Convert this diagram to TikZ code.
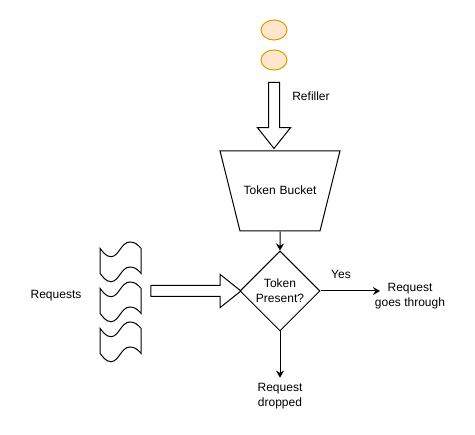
\documentclass[tikz,border=0pt]{standalone}
\usepackage{fontspec}
\setmainfont{Liberation Sans}
\usetikzlibrary{arrows.meta,shapes.geometric,shapes.arrows}
\definecolor{coinfill}{HTML}{FFE6CC}
\definecolor{coinline}{HTML}{D79B00}
\tikzset{
    coin/.style={
        ellipse,
        draw=coinline,
        fill=coinfill,
        minimum width=26pt,
        minimum height=20pt,
        inner sep=0pt
    },
    bucket/.style={
        trapezium,
        draw,
        shape border rotate=180,
        trapezium angle=76,
        text width=80pt,
        text height=44pt,
        text depth=36pt,
        align=center,
        inner sep=0pt
    },
    check/.style={
        diamond,
        draw,
        aspect=1,
        minimum size=80pt,
        inner sep=0pt,
        align=center
    },
    blockarrow/.style={
        single arrow,
        draw,
        single arrow tip angle=90,
        single arrow head extend=11pt,
        single arrow head indent=0pt,
        minimum width=32pt
    },
    label/.style={
        align=center,
        inner sep=1pt
    },
    flow/.style={
        -{Stealth[length=7pt,width=8pt]}
    },
    request/.pic={
        \draw (0,6.3) .. controls (3,10) and (6,14.7) .. (11,14.7)
          .. controls (19,14.7) and (21,0) .. (30,0)
          .. controls (35,0) and (38,3) .. (41,6.3)
          -- (41,31.3) .. controls (38,28) and (35,25) .. (30,25)
          .. controls (21,25) and (19,39.7) .. (11,39.7)
          .. controls (6,39.7) and (3,35) .. (0,31.3) -- cycle;
    }
}
\begin{document}
\begin{tikzpicture}[x=1pt,y=-1pt,font=\fontsize{12}{15}\selectfont,line width=1pt]
\useasboundingbox (0,0) rectangle (475,435);
\node[coin] (coin1) at (274,30) {};
\node[coin] (coin2) at (274,60) {};
\node[blockarrow,minimum height=66pt,shape border rotate=270,inner xsep=5pt,inner ysep=0pt,single arrow tip angle=77] (refill) at (274,112) {};
\node[label] (refiller) at (311,96) {Refiller};
\node[bucket] (tokens) at (280,191) {Token Bucket};
\node[check] (present) at (280,291) {Token\\Present?};
\node[blockarrow,minimum height=90pt,inner xsep=0pt,inner ysep=5pt,single arrow tip angle=77] (incoming) at (192.5,291) {};
\foreach \y in {242,282,322}
  \pic at (100,\y) {request};
\node[label] (requests) at (56,296) {Requests};
\node[label] (yes) at (341,274) {Yes};
\node[label] (through) at (410,296) {Request\\goes through};
\node[label,inner sep=5pt] (dropped) at (280,396) {Request\\dropped};
\coordinate (throughend) at (380,291);
\draw[flow] (tokens) -- (present);
\draw[flow] (present) -- (throughend);
\draw[flow] (present) -- (dropped);
\end{tikzpicture}
\end{document}
